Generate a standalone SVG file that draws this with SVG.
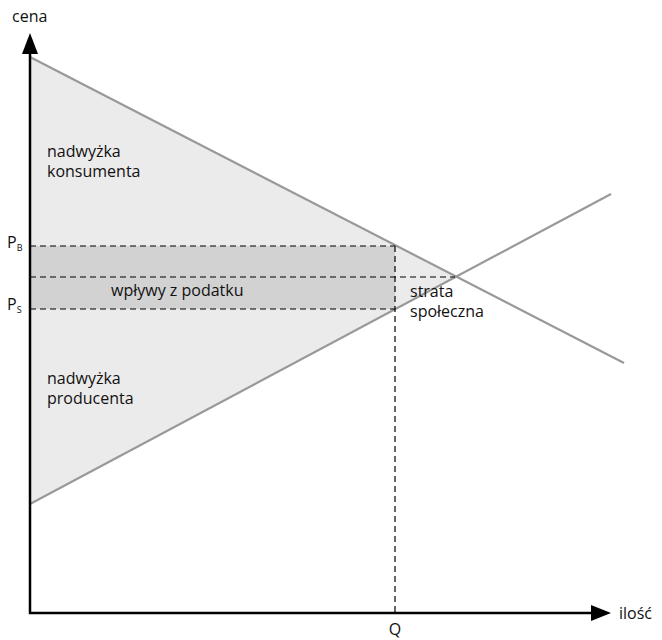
<svg xmlns="http://www.w3.org/2000/svg" width="662" height="640" viewBox="0 0 662 640">
<style>
text{font-family:"Open Sans","Liberation Sans",sans-serif;font-size:16px;fill:#111}
.sub{font-size:9px}
.curve{stroke:#999;stroke-width:2.2;fill:none}
.dash{stroke:#000;stroke-width:1.2;stroke-dasharray:6,4;fill:none}
.axis{stroke:#000;stroke-width:2.5;fill:none}
</style>
<g id="areas">
<polygon points="30,57 456,277 30,504" fill="#ebebeb"/>
<rect x="30" y="246" width="365" height="63" fill="#d2d2d2"/>
</g>
<g id="curves">
<line class="curve" x1="30" y1="57" x2="624" y2="363"/>
<line class="curve" x1="30" y1="504" x2="611" y2="194"/>
</g>
<g id="connectors">
<line class="dash" x1="30" y1="246" x2="395" y2="246"/>
<line class="dash" x1="30" y1="277" x2="455" y2="277"/>
<line class="dash" x1="30" y1="309" x2="395" y2="309"/>
<line class="dash" x1="395" y1="246" x2="395" y2="613"/>
</g>
<g id="axes">
<polygon points="30,33 22,54 38,54" fill="#000"/>
<polygon points="611,613 591,605 591,621" fill="#000"/>
<polyline class="axis" points="30,50 30,613 595,613"/>
</g>
<g id="labels">
<text x="12" y="22">cena</text>
<text x="619" y="619">ilość</text>
<text x="395" y="635" text-anchor="middle">Q</text>
<text x="7" y="248">P<tspan class="sub" dy="3">B</tspan></text>
<text x="7" y="310">P<tspan class="sub" dy="3">S</tspan></text>
<text x="47" y="157">nadwyżka</text>
<text x="47" y="177">konsumenta</text>
<text x="111" y="296">wpływy z podatku</text>
<text x="410" y="297">strata</text>
<text x="410" y="317">społeczna</text>
<text x="47" y="384">nadwyżka</text>
<text x="47" y="404">producenta</text>
</g>
</svg>
